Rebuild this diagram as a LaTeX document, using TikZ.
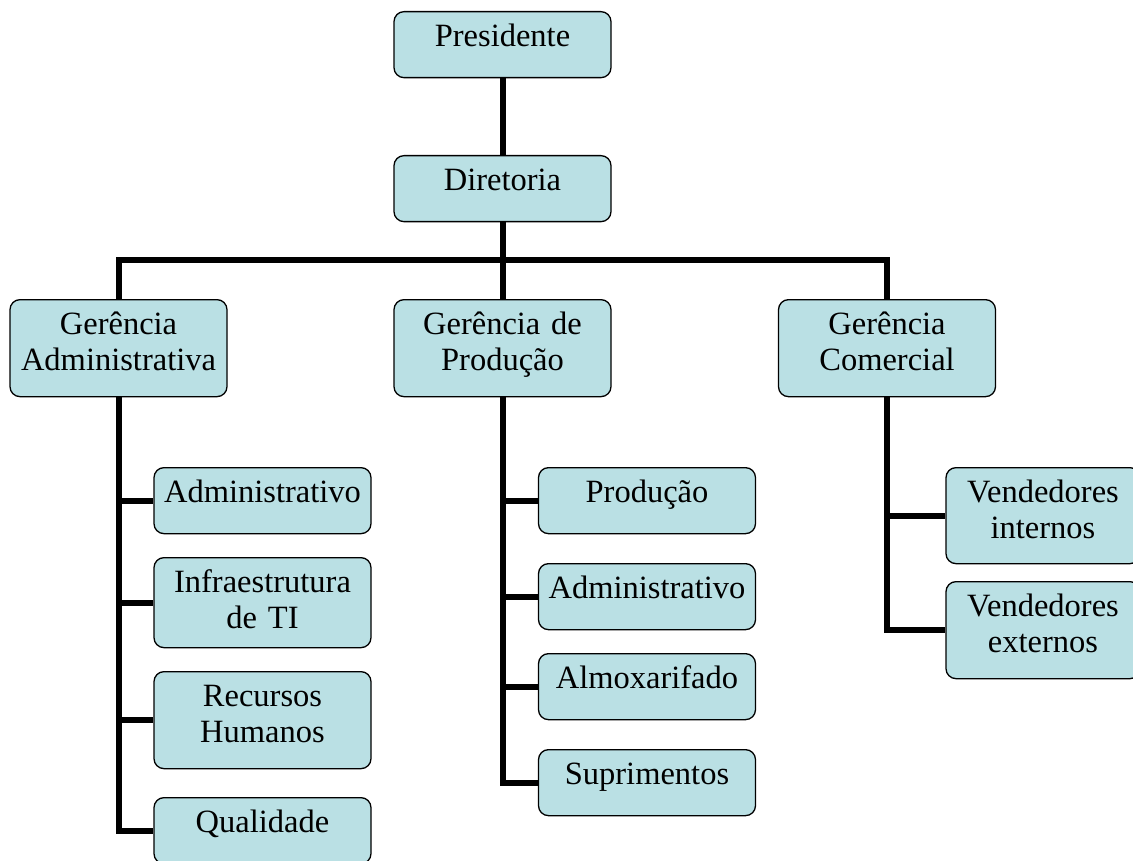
\documentclass[tikz,border=0pt]{standalone}
\usepackage{fontspec}
\setmainfont{Liberation Serif}
\usetikzlibrary{backgrounds}
\definecolor{boxfill}{RGB}{186,224,228}

\begin{document}
\begin{tikzpicture}[x=1pt, y=-1pt,
    unit/.style={draw=black, line width=1.3pt, fill=boxfill, rounded corners=10pt,
      anchor=north, align=center, text width=217pt, inner xsep=0pt, inner ysep=0pt,
      font=\fontsize{32.5}{36}\selectfont,
      execute at begin node={\rule{0pt}{35pt}},
      execute at end node={\rule[-#1]{0pt}{#1}}},
    unit/.default=31pt,
    link/.style={line width=6pt}]
      \useasboundingbox (0,0) rectangle (1133,861);

      % top of the chart
      \node[unit] (pres) at (502.5,11) {Presidente};
      \node[unit] (dir) at (502.5,155) {Diretoria};

      \node[unit=26pt] (gadm) at (118.5,299) {Gerência\\Administrativa};
      \node[unit=26pt] (gprod) at (502.5,299) {Gerência de\\Produção};
      \node[unit=26pt] (gcom) at (887,299) {Gerência\\Comercial};
      \coordinate (bar) at (502.5,260);

      % left column
      \node[unit] (adm1) at (262.5,467) {Administrativo};
      \node[unit=19pt] (infra) at (262.5,557) {Infraestrutura\\de TI};
      \node[unit=26pt] (rh) at (262.5,671) {Recursos\\Humanos};
      \node[unit] (qual) at (262.5,797) {Qualidade};

      % middle column
      \foreach \name/\y/\txt in {prod/467/Produção, adm2/563/Administrativo,
                                 almox/653/Almoxarifado, supr/749/Suprimentos} {
        \node[unit] (\name) at (647,\y) {\txt};
      }

      % right column
      \node[unit=25pt, text width=194pt] (vint) at (1043,467) {Vendedores\\internos};
      \node[unit=26pt, text width=194pt] (vext) at (1043,581) {Vendedores\\externos};

      \begin{scope}[on background layer]
        \draw[link] (pres) -- (dir);
        \draw[link] (dir) -- (gprod);
        \draw[link] (gadm.north) -- (gadm.north |- bar) -- (gcom.north |- bar) -- (gcom.north);

        \foreach \c in {adm1,infra,rh,qual} {
          \draw[link] (gadm.south) |- (\c.west);
        }
        \foreach \c in {prod,adm2,almox,supr} {
          \draw[link] (gprod.south) |- (\c.west);
        }
        \foreach \c in {vint,vext} {
          \draw[link] (gcom.south) |- (\c.west);
        }
      \end{scope}
    \end{tikzpicture}
\end{document}
